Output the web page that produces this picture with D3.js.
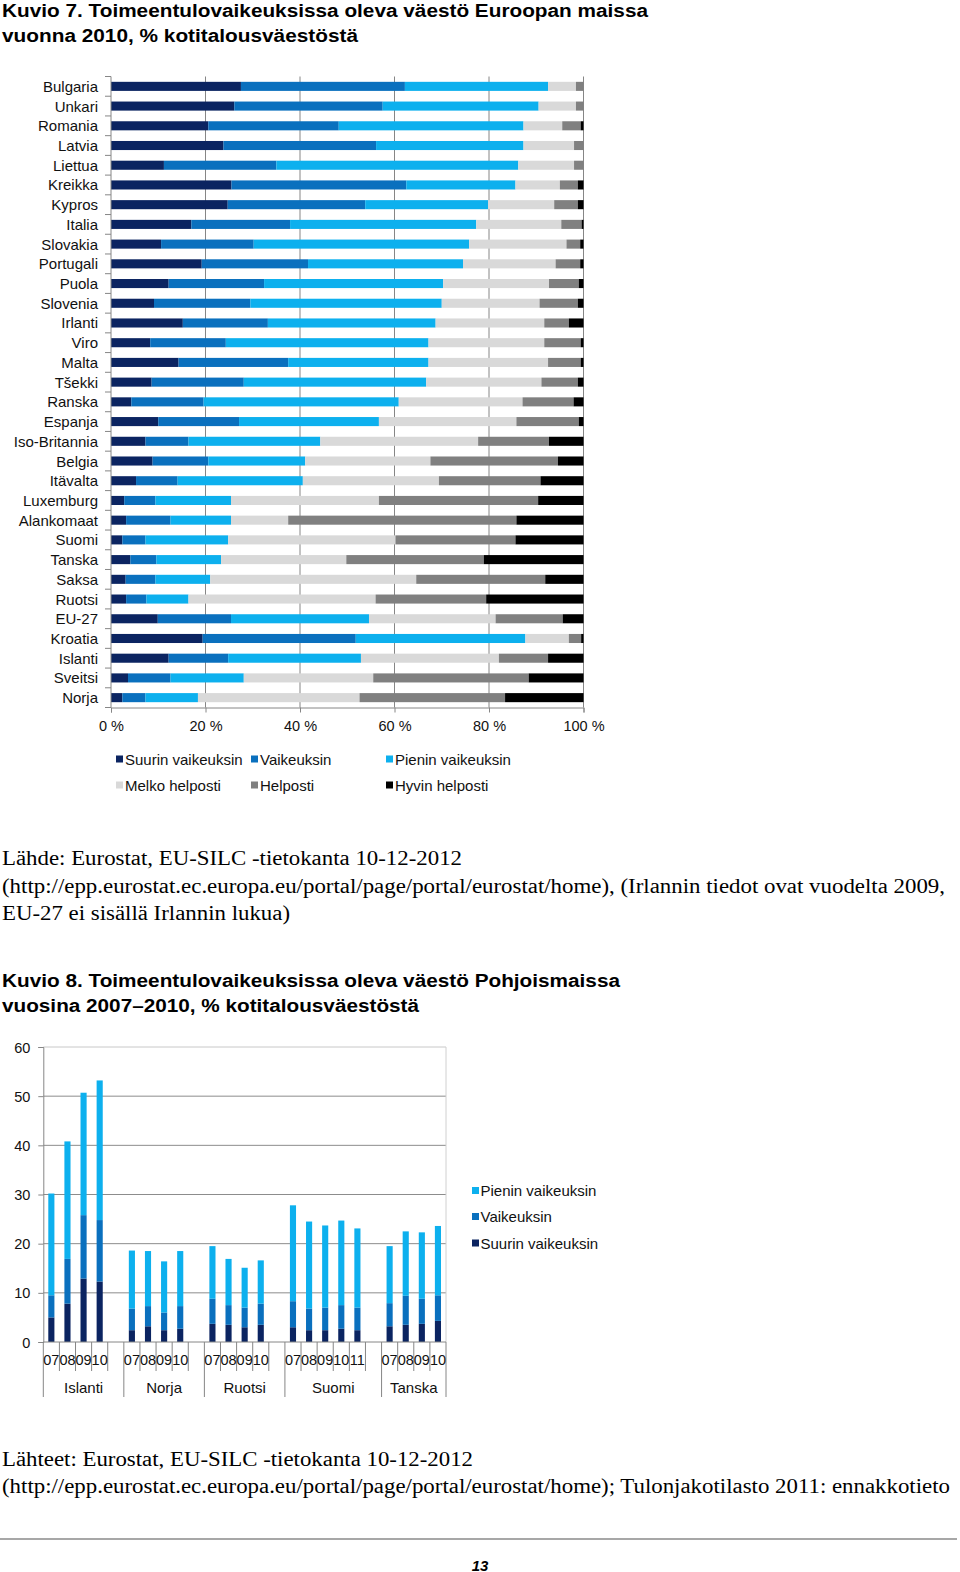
<!DOCTYPE html>
<html><head><meta charset="utf-8">
<script src="https://cdn.jsdelivr.net/npm/d3@7/dist/d3.min.js"></script>
<style>body{margin:0;background:#fff}svg{display:block}</style>
</head><body>
<svg id="c" width="960" height="1572"></svg>
<script>
// ---------- Chart 1 data ----------
const countries = ["Bulgaria","Unkari","Romania","Latvia","Liettua","Kreikka","Kypros","Italia","Slovakia","Portugali","Puola","Slovenia","Irlanti","Viro","Malta","Tšekki","Ranska","Espanja","Iso-Britannia","Belgia","Itävalta","Luxemburg","Alankomaat","Suomi","Tanska","Saksa","Ruotsi","EU-27","Kroatia","Islanti","Sveitsi","Norja"];
const seriesNames = ["Suurin vaikeuksin","Vaikeuksin","Pienin vaikeuksin","Melko helposti","Helposti","Hyvin helposti"];
const suurin   = [27.5,26.1,20.6,23.8,11.2,25.5,24.7,17.0,10.6,19.2,12.2,9.1,15.2,8.3,14.3,8.6,4.3,10.0,7.3,8.8,5.3,2.8,3.2,2.4,4.1,3.1,3.2,9.9,19.4,12.2,3.6,2.4];
const vaik     = [34.7,31.4,27.6,32.3,23.8,37.0,29.1,20.9,19.6,22.5,20.2,20.4,18.0,16.0,23.2,19.5,15.3,17.1,9.1,11.8,8.8,6.6,9.4,4.9,5.5,6.3,4.3,15.5,32.4,12.6,9.0,4.9];
const pienin   = [30.3,33.0,39.1,31.2,51.2,23.1,26.0,39.4,45.6,32.8,37.9,40.5,35.5,42.9,29.7,38.6,41.3,29.6,27.9,20.5,26.5,16.0,12.8,17.5,13.7,11.6,8.9,29.2,35.9,28.1,15.5,11.1];
const melko    = [5.9,7.9,8.2,10.7,11.8,9.4,14.0,18.0,20.6,19.6,22.4,20.7,23.0,24.5,25.3,24.4,26.2,29.1,33.4,26.5,28.8,31.3,12.1,35.4,26.5,43.6,39.6,26.8,9.2,29.2,27.4,34.2];
const helposti = [1.6,1.6,3.9,2.0,2.0,3.8,5.0,4.3,2.9,5.2,6.3,8.1,5.2,7.7,6.9,7.7,10.8,13.2,15.0,27.0,21.5,33.7,48.3,25.4,29.1,27.3,23.4,14.2,2.6,10.4,32.9,30.8];
const hyvin    = [0,0,0.6,0,0,1.2,1.2,0.4,0.7,0.7,1.0,1.2,3.1,0.6,0.6,1.2,2.1,1.0,7.3,5.4,9.1,9.6,14.2,14.4,21.1,8.1,20.6,4.4,0.5,7.5,11.6,16.6];
const xTicks1 = [0,20,40,60,80,100];

// ---------- Chart 2 data ----------
const groups2 = ["Islanti","Norja","Ruotsi","Suomi","Tanska"];
const years2 = [["07","08","09","10"],["07","08","09","10"],["07","08","09","10"],["07","08","09","10","11"],["07","08","09","10"]];
const suurin2 = [[5.0,7.8,12.9,12.3],[2.4,3.2,2.4,2.7],[3.7,3.5,3.0,3.5],[3.0,2.4,2.4,2.7,2.4],[3.2,3.5,3.7,4.3]];
const vaik2   = [[4.5,9.1,12.9,12.5],[4.4,4.1,3.6,4.6],[5.1,4.0,4.0,4.3],[5.3,4.4,4.6,4.8,4.6],[4.7,5.9,5.1,5.2]];
const pienin2 = [[20.7,23.9,24.9,28.4],[11.8,11.2,10.4,11.2],[10.7,9.4,8.1,8.8],[19.5,17.7,16.7,17.2,16.1],[11.6,13.1,13.5,14.1]];
const yTicks2 = [0,10,20,30,40,50,60];
const series2Names = ["Suurin vaikeuksin","Vaikeuksin","Pienin vaikeuksin"];

const colors = ["#0b2461","#0a70be","#0db0ee","#d9d9d9","#808080","#000000"];
const SANS = "'Liberation Sans', Arial, sans-serif";
const SERIF = "'Liberation Serif', 'Times New Roman', serif";

const svg = d3.select("#c");

function txt(x, y, s, opt) {
  const t = svg.append("text").attr("x", x).attr("y", y).text(s)
    .attr("font-family", opt.family || SANS).attr("font-size", opt.size)
    .attr("font-weight", opt.weight || "normal").attr("fill", opt.fill || "#000")
    .attr("dominant-baseline", "central");
  if (opt.style) t.attr("font-style", opt.style);
  if (opt.anchor) t.attr("text-anchor", opt.anchor);
  if (opt.len) t.attr("textLength", opt.len).attr("lengthAdjust", "spacingAndGlyphs");
  return t;
}

// ---------- Titles / texts ----------
txt(2, 11, "Kuvio 7. Toimeentulovaikeuksissa oleva väestö Euroopan maissa", {size: 18, weight: "bold", len: 646});
txt(2, 36, "vuonna 2010, % kotitalousväestöstä", {size: 18, weight: "bold", len: 356});
txt(2, 858, "Lähde: Eurostat, EU-SILC -tietokanta 10-12-2012", {size: 20, family: SERIF, len: 460});
txt(2, 886, "(http://epp.eurostat.ec.europa.eu/portal/page/portal/eurostat/home), (Irlannin tiedot ovat vuodelta 2009,", {size: 20, family: SERIF, len: 943});
txt(2, 913, "EU-27 ei sisällä Irlannin lukua)", {size: 20, family: SERIF, len: 288});
txt(2, 981, "Kuvio 8. Toimeentulovaikeuksissa oleva väestö Pohjoismaissa", {size: 18, weight: "bold", len: 618});
txt(2, 1006, "vuosina 2007–2010, % kotitalousväestöstä", {size: 18, weight: "bold", len: 417});
txt(2, 1459, "Lähteet: Eurostat, EU-SILC -tietokanta 10-12-2012", {size: 20, family: SERIF, len: 471});
txt(2, 1486, "(http://epp.eurostat.ec.europa.eu/portal/page/portal/eurostat/home); Tulonjakotilasto 2011: ennakkotieto", {size: 20, family: SERIF, len: 948});
svg.append("line").attr("x1", 0).attr("x2", 957).attr("y1", 1539).attr("y2", 1539)
  .attr("stroke", "#8a8a8a").attr("stroke-width", 1.5);
txt(480, 1565, "13", {size: 15, weight: "bold", style: "italic", anchor: "middle"});

// ---------- Chart 1 ----------
const x1 = d3.scaleLinear().domain([0, 100]).range([111, 583.5]);
const y1 = d3.scaleBand().domain(countries).range([76.5, 707.5]).paddingInner(0.54).paddingOuter(0.27);
const rows1 = countries.map((c, i) => ({country: c, s0: suurin[i], s1: vaik[i], s2: pienin[i], s3: melko[i], s4: helposti[i], s5: hyvin[i]}));
const keys1 = ["s0","s1","s2","s3","s4","s5"];
const stack1 = d3.stack().keys(keys1)(rows1);

const g1 = svg.append("g");
g1.selectAll(".grid").data(xTicks1.slice(1)).join("line")
  .attr("x1", d => x1(d)).attr("x2", d => x1(d)).attr("y1", 76.5).attr("y2", 707.5)
  .attr("stroke", "#868686").attr("stroke-width", 1);
stack1.forEach((layer, li) => {
  g1.append("g").attr("fill", colors[li]).selectAll("rect").data(layer).join("rect")
    .attr("x", d => x1(d[0])).attr("width", d => Math.max(0, x1(d[1]) - x1(d[0])))
    .attr("y", d => y1(d.data.country)).attr("height", y1.bandwidth());
});
const step1 = y1.step();
g1.append("line").attr("x1", 111).attr("x2", 111).attr("y1", 76.5).attr("y2", 707.5).attr("stroke", "#868686");
d3.range(countries.length + 1).forEach(i => {
  const yy = 76.5 + i * step1;
  g1.append("line").attr("x1", 105).attr("x2", 111).attr("y1", yy).attr("y2", yy).attr("stroke", "#868686");
});
g1.selectAll(".cl").data(countries).join("text")
  .attr("x", 98).attr("y", d => y1(d) + y1.bandwidth() / 2).attr("text-anchor", "end")
  .attr("dominant-baseline", "central").attr("font-family", SANS).attr("font-size", 15).attr("fill", "#111")
  .text(d => d);
const ax1 = g1.append("g").attr("transform", "translate(0,707.5)")
  .call(d3.axisBottom(x1).tickValues(xTicks1).tickSize(5).tickFormat(d => d + " %"));
ax1.select(".domain").attr("stroke", "#868686");
ax1.selectAll(".tick line").attr("stroke", "#868686");
ax1.selectAll(".tick text").attr("font-family", SANS).attr("font-size", 14.5).attr("fill", "#111").attr("dy", 0).attr("y", 18)
  .attr("dominant-baseline", "central");
const leg1 = [[0, 116, 759], [1, 251, 759], [2, 386, 759], [3, 116, 785], [4, 251, 785], [5, 386, 785]];
leg1.forEach(([i, lx, ly]) => {
  svg.append("rect").attr("x", lx).attr("y", ly - 3.5).attr("width", 7).attr("height", 7).attr("fill", colors[i]);
  txt(lx + 9, ly, seriesNames[i], {size: 15, fill: "#111"});
});

// ---------- Chart 2 ----------
const cats2 = [];
groups2.forEach((g, gi) => {
  years2[gi].forEach((yr, yi) => cats2.push({key: g + "-" + yr, group: g, year: yr, s0: suurin2[gi][yi], s1: vaik2[gi][yi], s2: pienin2[gi][yi]}));
  if (gi < groups2.length - 1) cats2.push({key: g + "-blank", group: g, year: "", blank: true});
});
const x2 = d3.scaleBand().domain(cats2.map(d => d.key)).range([43.3, 446]).paddingInner(0.62).paddingOuter(0.31);
const y2 = d3.scaleLinear().domain([0, 60]).range([1342, 1047]);
const step2 = x2.step();
const slotLeft = k => x2(k) + x2.bandwidth() / 2 - step2 / 2;
const g2 = svg.append("g");
g2.selectAll(".g2").data(yTicks2.slice(1)).join("line")
  .attr("x1", 43.3).attr("x2", 446).attr("y1", d => y2(d)).attr("y2", d => y2(d))
  .attr("stroke", d => d === 60 ? "#c8c8c8" : "#8c8c8c");
g2.append("line").attr("x1", 446).attr("x2", 446).attr("y1", 1047).attr("y2", 1342).attr("stroke", "#d0d0d0");
const stack2 = d3.stack().keys(["s0","s1","s2"]).value((d, k) => d.blank ? 0 : d[k])(cats2);
stack2.forEach((layer, li) => {
  g2.append("g").attr("fill", colors[li]).selectAll("rect").data(layer.filter(d => !d.data.blank)).join("rect")
    .attr("x", d => x2(d.data.key)).attr("width", x2.bandwidth())
    .attr("y", d => y2(d[1])).attr("height", d => y2(d[0]) - y2(d[1]));
});
const ay2 = g2.append("g").attr("transform", "translate(43.3,0)")
  .call(d3.axisLeft(y2).tickValues(yTicks2).tickSize(5));
ay2.select(".domain").attr("stroke", "#868686");
ay2.selectAll(".tick line").attr("stroke", "#868686");
ay2.selectAll(".tick text").attr("font-family", SANS).attr("font-size", 14.5).attr("fill", "#111").attr("x", -13)
  .attr("dy", 0).attr("dominant-baseline", "central");
g2.append("line").attr("x1", 43.3).attr("x2", 446).attr("y1", 1342).attr("y2", 1342).attr("stroke", "#868686");
cats2.forEach((d, i) => {
  const lx = slotLeft(d.key);
  const isGroupStart = i === 0 || cats2[i - 1].group !== d.group;
  g2.append("line").attr("x1", lx).attr("x2", lx).attr("y1", 1342).attr("y2", isGroupStart ? 1397 : 1371)
    .attr("stroke", "#868686");
  if (!d.blank) txt(lx + step2 / 2, 1360, d.year, {size: 14.5, anchor: "middle", fill: "#111"});
});
g2.append("line").attr("x1", 446).attr("x2", 446).attr("y1", 1342).attr("y2", 1397).attr("stroke", "#868686");
groups2.forEach(g => {
  const ks = cats2.filter(d => d.group === g);
  const a = slotLeft(ks[0].key), b = slotLeft(ks[ks.length - 1].key) + step2;
  txt((a + b) / 2, 1387, g, {size: 15, anchor: "middle", fill: "#111"});
});
[[2, 1190.5], [1, 1216.5], [0, 1243]].forEach(([i, ly]) => {
  svg.append("rect").attr("x", 472).attr("y", ly - 3.5).attr("width", 7).attr("height", 7).attr("fill", colors[i]);
  txt(480.5, ly, series2Names[i], {size: 15, fill: "#111"});
});
</script>
</body></html>
